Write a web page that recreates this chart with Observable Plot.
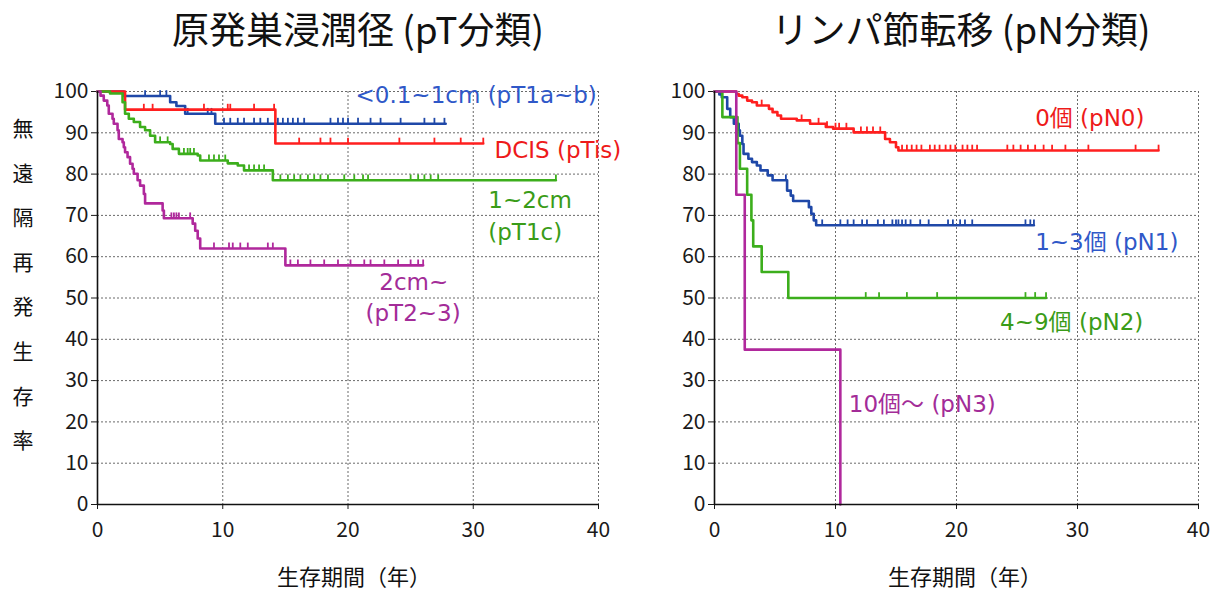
<!DOCTYPE html>
<html>
<head>
<meta charset="utf-8">
<script src="https://cdn.jsdelivr.net/npm/d3@7"></script>
<script src="https://cdn.jsdelivr.net/npm/@observablehq/plot@0.6"></script>
<style>
  body { margin: 0; background: #fff; font-family: "Noto Sans CJK JP", "Noto Sans", sans-serif; }
  #wrap { position: relative; width: 1225px; height: 590px; overflow: hidden; background: #fff; }
  #wrap svg { position: absolute; left: 0; top: 0; }
  .title { position: absolute; top: 8px; font-size: 37px; line-height: 40px; color: #111; white-space: nowrap; transform: translateX(-50%); }
  .xlab { position: absolute; top: 561px; font-size: 22px; line-height: 28px; color: #111; white-space: nowrap; transform: translateX(-50%); }
  .ylab { position: absolute; left: 11px; top: 105px; width: 24px; font-size: 21px; line-height: 44.6px; color: #111; text-align: center; }
</style>
</head>
<body>
<div id="wrap">
  <div class="title" style="left:358px">原発巣浸潤径 (pT分類)</div>
  <div class="title" style="left:961px">リンパ節転移 (pN分類)</div>
  <div class="xlab" style="left:354px">生存期間（年）</div>
  <div class="xlab" style="left:965px">生存期間（年）</div>
  <div class="ylab" id="ylab"></div>
</div>
<script>
// ---------- data ----------
const xTicks = [0, 10, 20, 30, 40];
const yTicks = [0, 10, 20, 30, 40, 50, 60, 70, 80, 90, 100];
const yLabel = "無遠隔再発生存率";
const xLabel = "生存期間（年）";

// Left panel: pT classification
const pT1abTime = [0, 2.1, 5.8, 6.3, 7.0, 9.4, 27.8];
const pT1abSurv = [100, 98.9, 97.4, 96.5, 94.6, 92.2, 92.2];
const pT1abCensor = [3.8, 5.0, 5.5, 7.2, 8.8, 9.1, 10.1, 10.6, 11.2, 11.7, 12.5, 13.0, 13.6, 14.4, 14.8, 15.2, 15.6, 16.0, 16.5, 18.6, 19.2, 19.6, 20.0, 20.8, 21.8, 22.6, 24.2, 26.1, 26.9, 27.7];

const pTisTime = [0, 2.2, 14.2, 30.8];
const pTisSurv = [100, 95.6, 87.4, 87.4];
const pTisCensor = [3.7, 4.4, 8.5, 10.4, 10.6, 12.5, 14.1, 16.1, 17.8, 18.6, 20.0, 24.1, 26.9, 29.0, 30.8];

const pT1cTime = [0, 1.0, 2.0, 2.2, 2.5, 2.9, 3.4, 3.8, 4.2, 4.6, 5.8, 6.0, 6.5, 8.0, 8.2, 10.4, 11.2, 11.7, 14.0, 36.6];
const pT1cSurv = [100, 99.5, 97.4, 94.6, 93.4, 92.6, 91.4, 90.6, 89.3, 87.7, 87.3, 86.1, 84.9, 84.5, 83.3, 82.6, 82.1, 80.9, 78.5, 78.5];
const pT1cCensor = [5.0, 5.6, 6.9, 7.2, 7.4, 7.7, 8.9, 9.3, 9.7, 10.2, 12.1, 12.5, 12.9, 13.3, 14.6, 15.2, 15.7, 16.2, 16.8, 17.3, 17.8, 18.4, 19.7, 20.5, 21.2, 21.6, 25.0, 25.6, 26.1, 26.6, 27.2, 36.6];

const pT23Time = [0, 0.24, 0.5, 0.78, 0.9, 1.2, 1.3, 1.6, 1.7, 2.0, 2.1, 2.2, 2.4, 2.6, 2.8, 2.9, 3.2, 3.4, 3.7, 3.8, 5.2, 5.3, 7.6, 7.8, 8.0, 8.2, 15.0, 26.0];
const pT23Surv = [100, 99.0, 97.8, 96.6, 94.6, 93.4, 92.2, 90.6, 88.5, 87.7, 86.5, 85.3, 84.1, 82.5, 81.3, 80.1, 78.5, 77.2, 75.2, 72.9, 71.2, 69.3, 68.0, 66.3, 64.4, 62.0, 57.9, 57.9];
const pT23Censor = [5.9, 6.1, 6.3, 6.5, 7.4, 9.3, 10.5, 10.8, 11.4, 12.0, 13.6, 14.0, 15.4, 16.0, 17.0, 18.1, 19.2, 20.2, 21.3, 21.8, 22.9, 24.0, 25.0, 25.6, 26.0];

// Right panel: pN classification
const pN0Time = [0, 1.8, 2.0, 2.3, 2.7, 3.1, 3.5, 4.5, 4.8, 5.2, 5.5, 6.8, 7.9, 9.2, 9.8, 11.5, 14.1, 14.5, 15.0, 15.2, 36.7];
const pN0Surv = [100, 99.4, 99.0, 98.6, 97.8, 97.4, 96.6, 95.8, 95.0, 94.2, 93.4, 93.0, 92.2, 91.4, 91.0, 90.1, 88.5, 87.7, 86.5, 85.7, 85.7];
const pN0Censor = [3.9, 7.2, 8.6, 9.3, 10.0, 10.3, 10.9, 12.1, 12.6, 13.1, 13.7, 15.5, 15.9, 16.3, 16.7, 17.1, 17.8, 18.2, 18.6, 19.1, 19.5, 19.9, 20.5, 20.9, 21.3, 21.7, 24.2, 24.7, 25.3, 25.9, 26.5, 27.2, 27.9, 29.0, 30.9, 34.8, 36.7];

const pN1Time = [0, 0.4, 0.6, 1.05, 1.3, 1.6, 2.0, 2.1, 2.3, 2.4, 2.8, 3.1, 3.5, 3.8, 4.4, 4.8, 6.0, 6.3, 6.5, 7.8, 8.0, 8.2, 8.4, 26.4];
const pN1Surv = [100, 99.3, 98.6, 95.8, 93.8, 92.2, 90.6, 89.3, 87.3, 84.9, 83.7, 82.9, 82.1, 80.9, 79.7, 78.5, 76.0, 74.8, 73.5, 72.0, 70.4, 68.8, 67.6, 67.6];
const pN1Censor = [5.9, 8.9, 10.4, 11.0, 11.5, 12.2, 12.6, 13.5, 14.0, 14.7, 15.0, 15.2, 15.5, 15.8, 16.2, 17.0, 17.7, 19.3, 19.7, 20.3, 20.7, 21.3, 25.7, 26.1, 26.4];

const pN2Time = [0, 0.65, 1.9, 2.1, 2.7, 3.05, 3.2, 3.9, 6.1, 27.4];
const pN2Surv = [100, 93.8, 87.5, 81.3, 75.0, 68.8, 62.5, 56.3, 50.0, 50.0];
const pN2Censor = [12.5, 13.6, 15.9, 18.4, 25.7, 26.5, 27.4];

const pN3Time = [0, 1.8, 2.5, 10.4];
const pN3Surv = [100, 75.0, 37.5, 0];
const pN3Censor = [];

// Series labels (text + anchor in data units)
const leftLabelText = ["<0.1~1cm (pT1a~b)", "DCIS (pTis)", "1~2cm", "(pT1c)", "2cm~", "(pT2~3)"];
const leftLabelX = [20.6, 31.7, 31.2, 31.2, 22.5, 21.4];
const leftLabelY = [99.0, 85.7, 73.6, 65.9, 53.8, 46.3];
const rightLabelText = ["0個 (pN0)", "1~3個 (pN1)", "4~9個 (pN2)", "10個～ (pN3)"];
const rightLabelX = [26.5, 26.5, 23.6, 11.1];
const rightLabelY = [93.5, 63.4, 44.1, 24.2];

// ---------- styling ----------
const C = {
  blue: "#1f48a8", red: "#ff1f1f", green: "#3cae1c", purple: "#b0289c",
  blueT: "#2f58c8", redT: "#ee1a1a", greenT: "#3a9c18", purpleT: "#a32c98"
};
const FONT = '"Noto Sans CJK JP", "Noto Sans", sans-serif';
const LABEL_FONT = '"DejaVu Sans", "Noto Sans CJK JP", sans-serif';

document.getElementById("ylab").innerHTML = [...yLabel].map(c => `<div>${c}</div>`).join("");

function pts(time, surv) { return time.map((t, i) => ({t, s: surv[i]})); }
function stepAt(time, surv, t) { let v = surv[0]; for (let i = 0; i < time.length; i++) if (time[i] <= t) v = surv[i]; return v; }
function cens(time, surv, c) { return c.map(t => ({t, s: stepAt(time, surv, t)})); }

function panel(series, labels, frameLeft, frameRight) {
  const marks = [
    Plot.ruleY(yTicks.filter(v => v > 0), {stroke: "#6a6a6a", strokeDasharray: "2,2", strokeWidth: 1}),
    Plot.ruleX(xTicks.filter(v => v > 0), {stroke: "#6a6a6a", strokeDasharray: "2,2", strokeWidth: 1}),
  ];
  for (const s of series) {
    marks.push(Plot.line(pts(s.time, s.surv), {x: "t", y: "s", curve: "step-after", stroke: s.color, strokeWidth: 2.6}));
    marks.push(Plot.ruleX(cens(s.time, s.surv, s.censor), {x: "t", y1: "s", y2: d => d.s + 1.3, stroke: s.color, strokeWidth: 1.8}));
  }
  marks.push(Plot.ruleX([0], {stroke: "#111", strokeWidth: 1.6}));
  marks.push(Plot.ruleY([0], {stroke: "#111", strokeWidth: 1.6}));
  for (const l of labels) {
    marks.push(Plot.text(l.text.map((t, i) => ({t, x: l.x[i], y: l.y[i], c: l.colors[i]})),
      {x: "x", y: "y", text: "t", fill: "c", textAnchor: "start", fontSize: 23, fontFamily: LABEL_FONT}));
  }
  return Plot.plot({
    width: 1225, height: 590,
    marginLeft: frameLeft, marginRight: 1225 - frameRight, marginTop: 91, marginBottom: 86,
    x: {domain: [0, 40], ticks: xTicks, tickSize: 5, tickPadding: 13, label: null, tickFormat: d => String(d)},
    y: {domain: [0, 100], ticks: yTicks, tickSize: 6, tickPadding: 3, label: null, tickFormat: d => String(d)},
    color: {type: "identity"},
    style: {background: "transparent", fontFamily: FONT, fontSize: "21px", color: "#1a1a1a", overflow: "visible"},
    marks
  });
}

const left = panel([
  {time: pT1abTime, surv: pT1abSurv, censor: pT1abCensor, color: C.blue},
  {time: pTisTime, surv: pTisSurv, censor: pTisCensor, color: C.red},
  {time: pT1cTime, surv: pT1cSurv, censor: pT1cCensor, color: C.green},
  {time: pT23Time, surv: pT23Surv, censor: pT23Censor, color: C.purple}
], [{text: leftLabelText, x: leftLabelX, y: leftLabelY,
     colors: [C.blueT, C.redT, C.greenT, C.greenT, C.purpleT, C.purpleT]}], 97, 598);

const right = panel([
  {time: pN0Time, surv: pN0Surv, censor: pN0Censor, color: C.red},
  {time: pN1Time, surv: pN1Surv, censor: pN1Censor, color: C.blue},
  {time: pN2Time, surv: pN2Surv, censor: pN2Censor, color: C.green},
  {time: pN3Time, surv: pN3Surv, censor: pN3Censor, color: C.purple}
], [{text: rightLabelText, x: rightLabelX, y: rightLabelY,
     colors: [C.redT, C.blueT, C.greenT, C.purpleT]}], 714, 1198);

const wrap = document.getElementById("wrap");
wrap.appendChild(left);
wrap.appendChild(right);
</script>
</body>
</html>
